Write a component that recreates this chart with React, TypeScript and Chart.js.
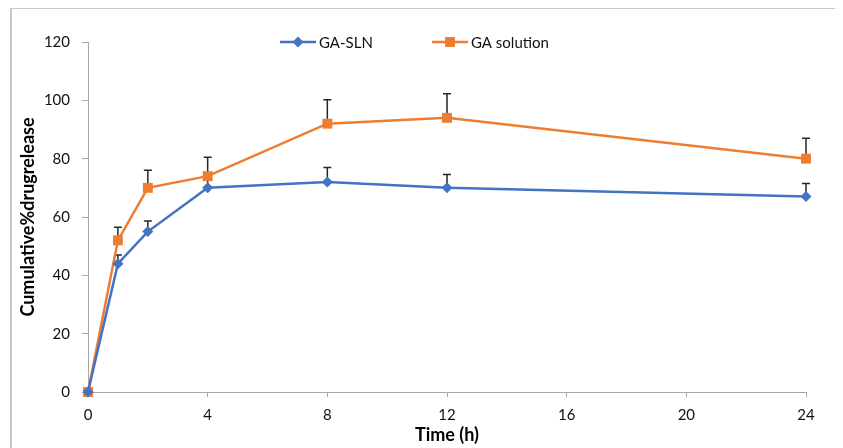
import React, { useEffect, useRef } from "react";
import { Chart, registerables } from "chart.js";

Chart.register(...registerables);

const times = [0, 1, 2, 4, 8, 12, 24];
const slnValues = [0, 44, 55, 70, 72, 70, 67];
const slnErrors = [0, 3, 3.6, 3, 5, 4.6, 4.5];
const solValues = [0, 52, 70, 74, 92, 94, 80];
const solErrors = [0, 4.5, 6, 6.5, 8.2, 8.3, 7];
const xTicks = [0, 4, 8, 12, 16, 20, 24];
const yTicks = [0, 20, 40, 60, 80, 100, 120];
const seriesNames = ["GA-SLN", "GA solution"];

const BLUE = "#4472C4";
const ORANGE = "#ED7D31";
const FONT = "Lato, 'Open Sans', sans-serif";

const errorBarPlugin = {
  id: "errorBars",
  beforeDatasetsDraw(chart: any) {
    const { ctx, scales } = chart;
    const xs = scales.x;
    const ys = scales.y;
    const errs = [slnErrors, solErrors];
    chart.data.datasets.forEach((ds: any, di: number) => {
      ds.data.forEach((pt: any, i: number) => {
        const e = errs[di][i];
        if (!e) return;
        const px = xs.getPixelForValue(pt.x);
        const py0 = ys.getPixelForValue(pt.y);
        const py1 = ys.getPixelForValue(pt.y + e);
        ctx.save();
        ctx.strokeStyle = "#262626";
        ctx.lineWidth = 1.5;
        ctx.beginPath();
        ctx.moveTo(px, py0);
        ctx.lineTo(px, py1);
        ctx.moveTo(px - 4, py1);
        ctx.lineTo(px + 4, py1);
        ctx.stroke();
        ctx.restore();
      });
    });
  },
};

const legendPlugin = {
  id: "customLegend",
  afterDraw(chart: any) {
    const { ctx } = chart;
    const y = 42;
    const items = [
      { x0: 280, x1: 316, color: BLUE, style: "rectRot", r: 5.5, label: seriesNames[0] },
      { x0: 432, x1: 468, color: ORANGE, style: "rect", r: 7, label: seriesNames[1] },
    ];
    ctx.save();
    items.forEach((it) => {
      ctx.strokeStyle = it.color;
      ctx.lineWidth = 2.5;
      ctx.beginPath();
      ctx.moveTo(it.x0, y);
      ctx.lineTo(it.x1, y);
      ctx.stroke();
      ctx.fillStyle = it.color;
      const cx = (it.x0 + it.x1) / 2;
      if (it.style === "rect") {
        const s = it.r * Math.SQRT1_2;
        ctx.fillRect(cx - s, y - s, 2 * s, 2 * s);
      } else {
        ctx.beginPath();
        ctx.moveTo(cx, y - it.r);
        ctx.lineTo(cx + it.r, y);
        ctx.lineTo(cx, y + it.r);
        ctx.lineTo(cx - it.r, y);
        ctx.closePath();
        ctx.fill();
      }
      ctx.fillStyle = "#111";
      ctx.font = `15px ${FONT}`;
      ctx.textBaseline = "middle";
      ctx.textAlign = "left";
      ctx.fillText(it.label, it.x1 + 3, y + 1);
    });
    ctx.restore();
  },
};

export default function App() {
  const canvasRef = useRef<HTMLCanvasElement>(null);

  useEffect(() => {
    if (!canvasRef.current) return;
    const chart = new Chart(canvasRef.current, {
      type: "line",
      data: {
        datasets: [
          {
            label: seriesNames[0],
            data: times.map((t, i) => ({ x: t, y: slnValues[i] })),
            borderColor: BLUE,
            backgroundColor: BLUE,
            borderWidth: 2.5,
            pointStyle: "rectRot",
            pointRadius: 5.5,
            pointBorderWidth: 0,
            tension: 0,
            clip: false,
          },
          {
            label: seriesNames[1],
            data: times.map((t, i) => ({ x: t, y: solValues[i] })),
            borderColor: ORANGE,
            backgroundColor: ORANGE,
            borderWidth: 2.5,
            pointStyle: "rect",
            pointRadius: 7,
            pointBorderWidth: 0,
            tension: 0,
            clip: false,
          },
        ],
      },
      options: {
        animation: false,
        responsive: false,
        layout: { padding: { top: 42, right: 37, left: 0, bottom: 0 } },
        plugins: {
          legend: { display: false },
          tooltip: { enabled: false },
        },
        scales: {
          x: {
            type: "linear",
            min: 0,
            max: 24,
            afterFit: (s: any) => {
              s.height = 56;
            },
            afterBuildTicks: (s: any) => {
              s.ticks = xTicks.map((v) => ({ value: v }));
            },
            ticks: {
              color: "#111",
              font: { family: FONT, size: 15 },
              padding: 9,
              maxRotation: 0,
            },
            grid: {
              drawOnChartArea: false,
              drawTicks: true,
              tickLength: 5,
              color: "#a6a6a6",
            },
            border: { color: "#a6a6a6", width: 1 },
            title: {
              display: true,
              text: "Time (h)",
              color: "#000",
              font: { family: FONT, size: 18, weight: "bold" },
              padding: { top: 0, bottom: 2 },
            },
          },
          y: {
            type: "linear",
            min: 0,
            max: 120,
            afterFit: (s: any) => {
              s.width = 88;
            },
            afterBuildTicks: (s: any) => {
              s.ticks = yTicks.map((v) => ({ value: v }));
            },
            ticks: {
              color: "#111",
              font: { family: FONT, size: 15 },
              padding: 12,
            },
            grid: {
              drawOnChartArea: false,
              drawTicks: true,
              tickLength: 6,
              color: "#a6a6a6",
            },
            border: { color: "#a6a6a6", width: 1 },
            title: {
              display: true,
              text: "Cumulative%drugrelease",
              color: "#000",
              font: { family: FONT, size: 18, weight: "bold" },
              padding: { top: 17, bottom: 0 },
            },
          },
        },
      },
      plugins: [errorBarPlugin, legendPlugin],
    });
    return () => chart.destroy();
  }, []);

  return (
    <div style={{ position: "relative", width: 843, height: 448, overflow: "hidden", background: "#fff", marginLeft: -8, marginTop: -8 }}>
      <canvas ref={canvasRef} width={843} height={448} style={{ position: "absolute", left: 0, top: 0, display: "block" }} />
      <div
        style={{
          position: "absolute",
          left: 10,
          top: 7,
          width: 831,
          height: 460,
          borderLeft: "2px solid #c8c8c8",
          borderTop: "2px solid #c8c8c8",
          borderRight: "2px solid #8a8a8a",
          boxSizing: "border-box",
          pointerEvents: "none",
        }}
      />
    </div>
  );
}
